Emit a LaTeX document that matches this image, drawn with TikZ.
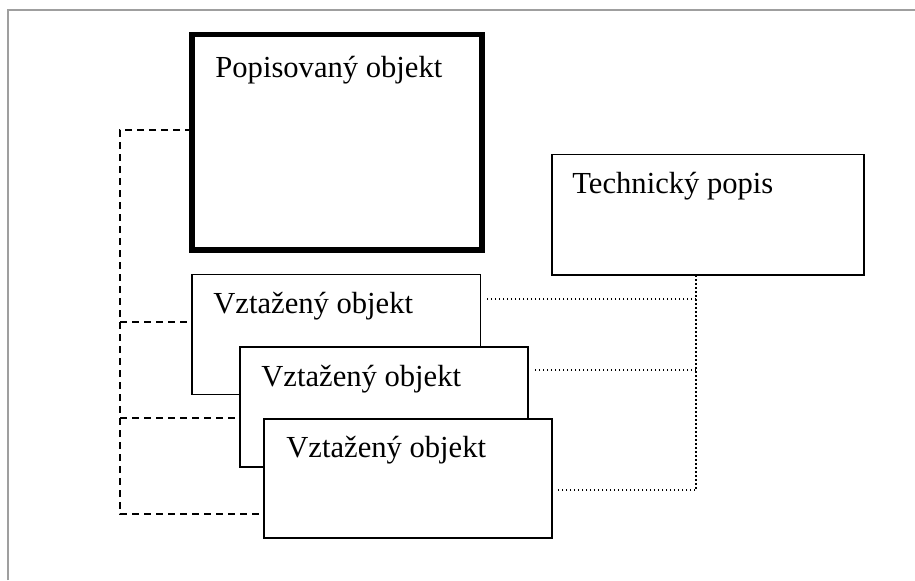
\documentclass[tikz,border=0pt]{standalone}
\usepackage{fontspec}
\setmainfont{Liberation Serif}
\begin{document}
\begin{tikzpicture}[x=0.5pt,y=-0.5pt,
  box/.style={draw,fill=white,line width=0.9pt,rectangle,inner sep=0pt,outer sep=0pt,anchor=north west},
  thickbox/.style={box,line width=2.6pt},
  lbl/.style={anchor=base west,inner sep=0pt,font=\fontsize{15.3}{18}\selectfont},
  dashline/.style={line width=0.75pt,dash pattern=on 3.6pt off 2.4pt},
  dotline/.style={line width=0.75pt,dash pattern=on 0.75pt off 1.25pt}]
\useasboundingbox (0,0) rectangle (915,580);
% outer frame
\draw[gray!75,line width=0.8pt] (8,580) -- (8,10) -- (915,10);
% boxes
\node[thickbox,minimum width=145pt,minimum height=107.75pt] (popis) at (192,34.5) {};
\node[box,minimum width=156pt,minimum height=60.25pt] (tech) at (552,154.5) {};
\node[box,minimum width=144.25pt,minimum height=60pt] (v1) at (192,274.5) {};
\node[box,minimum width=144pt,minimum height=60pt] (v2) at (240,347) {};
\node[box,minimum width=144pt,minimum height=59.5pt] (v3) at (264,419) {};
% labels
\node[lbl] (tp) at (215,77) {Popisovaný objekt};
\node[lbl] (tt) at (572,193) {Technický popis};
\node[lbl] (t1) at (213,313) {Vztažený objekt};
\node[lbl] (t2) at (261,386) {Vztažený objekt};
\node[lbl] (t3) at (286,457) {Vztažený objekt};
% dashed connectors
\coordinate (b0) at (120,130);
\coordinate (b1) at (120,322);
\coordinate (b2) at (120,418);
\coordinate (b3) at (120,514);
\draw[dashline] (popis.west |- b0) -- (b0) -- (b3) -- (v3.west |- b3);
\draw[dashline] (b1) -- (v1.west |- b1);
\draw[dashline] (b2) -- (v2.west |- b2);
% dotted connectors
\coordinate (r1) at (696,299);
\coordinate (r2) at (696,370);
\coordinate (r3) at (696,490);
\draw[dotline] (tech.south -| r1) -- (r3) -- ([xshift=2]v3.east |- r3);
\draw[dotline] (r1) -- ([xshift=2]v1.east |- r1);
\draw[dotline] (r2) -- ([xshift=2]v2.east |- r2);
\end{tikzpicture}
\end{document}
